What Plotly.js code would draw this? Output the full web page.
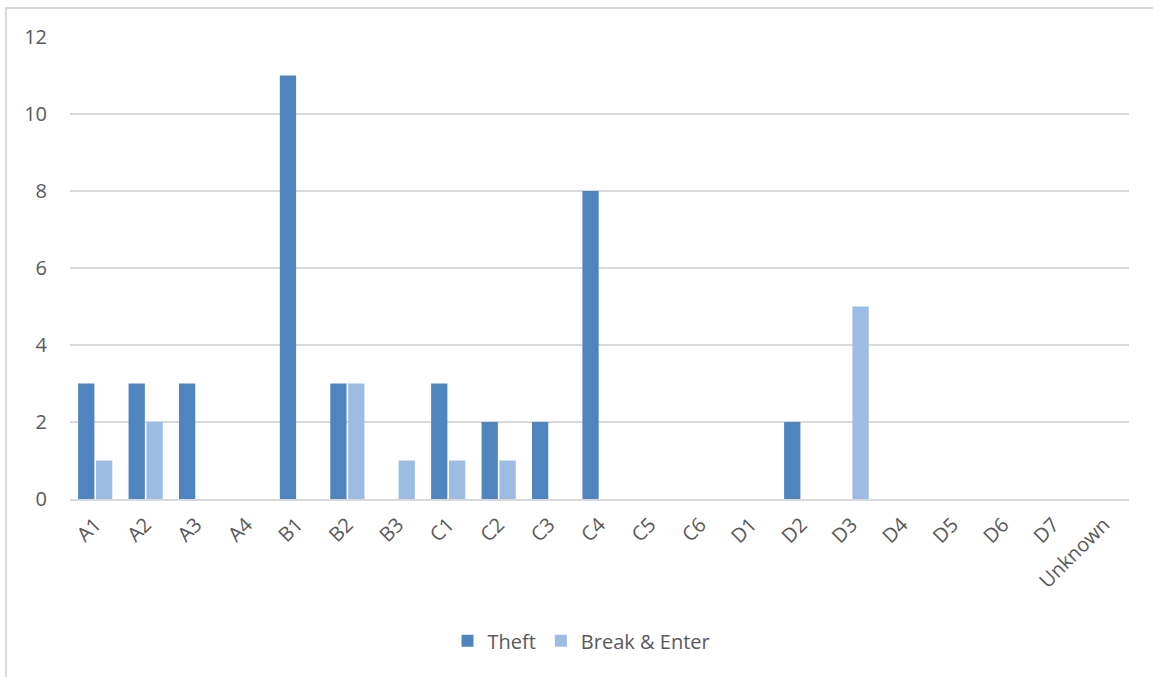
<!DOCTYPE html>
<html>
<head>
<meta charset="utf-8">
<script src="https://cdn.plot.ly/plotly-3.0.1.min.js"></script>
<style>
  html, body { margin: 0; padding: 0; background: #ffffff; }
  #wrap { position: relative; width: 1153px; height: 677px; overflow: hidden; }
  #frame { position: absolute; left: 5px; top: 7px; width: 1160px; height: 690px;
           border-left: 2px solid #d9d9d9; border-top: 2px solid #d9d9d9; }
  #chart { position: absolute; left: 0; top: 0; width: 1153px; height: 677px; }
</style>
</head>
<body>
<div id="wrap">
  <div id="frame"></div>
  <div id="chart"></div>
</div>
<script>
const categories = ["A1","A2","A3","A4","B1","B2","B3","C1","C2","C3","C4","C5","C6","D1","D2","D3","D4","D5","D6","D7","Unknown"];
const theft      = [3, 3, 3, 0, 11, 3, 0, 3, 2, 2, 8, 0, 0, 0, 2, 0, 0, 0, 0, 0, 0];
const breakEnter = [1, 2, 0, 0, 0, 3, 1, 1, 1, 0, 0, 0, 0, 0, 0, 5, 0, 0, 0, 0, 0];
const yTicks = [0, 2, 4, 6, 8, 10, 12];

const fontFam = "Open Sans, Noto Sans, sans-serif";
const traces = [
  { type: "bar", name: "Theft", x: categories, y: theft,
    marker: { color: "#4f85bf", line: { width: 0 } }, hoverinfo: "none" },
  { type: "bar", name: "Break & Enter", x: categories, y: breakEnter,
    marker: { color: "#9dbce3", line: { width: 0 } }, hoverinfo: "none" }
];

const layout = {
  width: 1153, height: 677,
  margin: { l: 70, r: 24, t: 37, b: 178 },
  paper_bgcolor: "rgba(0,0,0,0)",
  plot_bgcolor: "rgba(0,0,0,0)",
  barmode: "group",
  bargap: 0.29,
  bargroupgap: 0.09,
  font: { family: fontFam, size: 20, color: "#595959" },
  showlegend: true,
  legend: { orientation: "h", x: 0.483, xanchor: "center", y: -0.307, yanchor: "middle",
            font: { family: fontFam, size: 20, color: "#595959" }, itemwidth: 30, traceorder: "normal" },
  xaxis: {
    type: "category", tickangle: -45, showgrid: false, zeroline: false,
    showline: true, linecolor: "#d9d9d9", linewidth: 2, ticks: "",
    tickfont: { family: fontFam, size: 20, color: "#595959" },
    ticklabelstandoff: 4
  },
  yaxis: {
    range: [0, 12], tickvals: yTicks, ticktext: yTicks.map(String),
    showgrid: true, gridcolor: "#d9d9d9", gridwidth: 1.5,
    zeroline: false, showline: false, ticks: "",
    tickfont: { family: fontFam, size: 20, color: "#595959" },
    ticklabelstandoff: 22
  }
};

Plotly.newPlot("chart", traces, layout, { staticPlot: true, displayModeBar: false });
</script>
</body>
</html>
